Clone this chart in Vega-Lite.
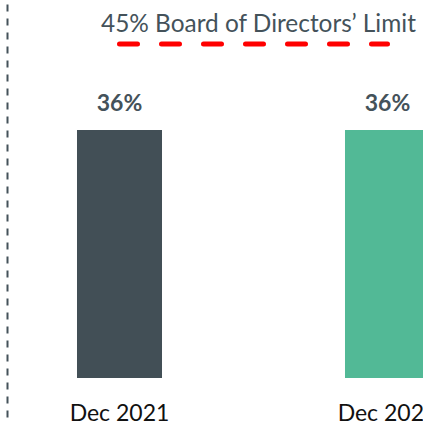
{
  "$schema": "https://vega.github.io/schema/vega-lite/v6.json",
  "width": 493,
  "height": 378,
  "autosize": {"type": "none"},
  "padding": {"left": 7, "top": 0, "right": 0, "bottom": 43},
  "background": "white",
  "config": {"view": {"stroke": null}, "font": "Lato"},
  "datasets": {
    "bars": [
      {"period": "Dec 2021", "share": 36, "label": "36%"},
      {"period": "Dec 2022", "share": 36, "label": "36%"}
    ],
    "limit": [
      {"period": "Dec 2021", "limit": 45},
      {"period": "Dec 2022", "limit": 45}
    ],
    "note": [
      {"period": "Dec 2021", "limit": 45, "text": "45% Board of Directors’ Limit"}
    ]
  },
  "encoding": {
    "x": {
      "field": "period",
      "type": "nominal",
      "sort": ["Dec 2021", "Dec 2022"],
      "scale": {"paddingInner": 0.6828, "paddingOuter": 0.2612},
      "axis": {
        "title": null,
        "domain": false,
        "ticks": false,
        "labelAngle": 0,
        "labelFont": "Lato",
        "labelFontSize": 23,
        "labelColor": "#111111",
        "labelBaseline": "alphabetic",
        "labelPadding": 42
      }
    }
  },
  "layer": [
    {
      "data": {"name": "bars"},
      "mark": {"type": "bar", "clip": true},
      "encoding": {
        "y": {
          "field": "share",
          "type": "quantitative",
          "scale": {"domain": [6, 49.6], "range": [417, 0], "nice": false, "zero": false},
          "axis": {
            "title": null,
            "labels": false,
            "ticks": false,
            "grid": false,
            "domain": true,
            "domainColor": "#44525A",
            "domainWidth": 2,
            "domainDash": [7, 7]
          }
        },
        "color": {
          "field": "period",
          "type": "nominal",
          "scale": {"domain": ["Dec 2021", "Dec 2022"], "range": ["#424F56", "#52B996"]},
          "legend": null
        }
      }
    },
    {
      "data": {"name": "bars"},
      "mark": {"type": "text", "fontWeight": "bold", "fontSize": 23, "dy": -19, "baseline": "alphabetic", "color": "#44525A"},
      "encoding": {
        "y": {"field": "share", "type": "quantitative"},
        "text": {"field": "label"}
      }
    },
    {
      "data": {"name": "limit"},
      "mark": {"type": "line", "color": "#FF0000", "strokeWidth": 5, "strokeDash": [18, 24], "strokeCap": "round"},
      "encoding": {
        "y": {"field": "limit", "type": "quantitative"}
      }
    },
    {
      "data": {"name": "note"},
      "mark": {"type": "text", "fontSize": 24.4, "align": "left", "dx": -18.5, "dy": -12, "baseline": "alphabetic", "color": "#44525A"},
      "encoding": {
        "y": {"field": "limit", "type": "quantitative"},
        "text": {"field": "text"}
      }
    }
  ]
}
